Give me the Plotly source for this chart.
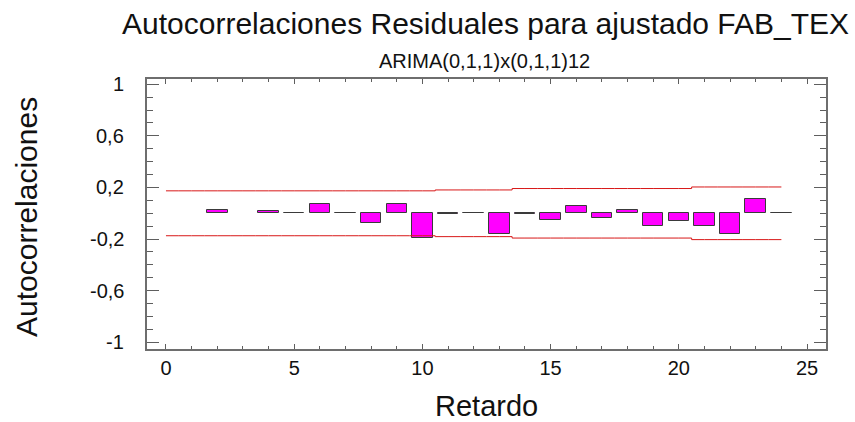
import plotly.graph_objects as go

# Data
lags = list(range(1, 25))
acf = [None, 0.024, None, 0.018, 0.002, 0.072, 0.005, -0.075, 0.072, -0.189,
       -0.004, 0.004, -0.160, -0.003, -0.054, 0.057, -0.039, 0.028, -0.096,
       -0.060, -0.096, -0.160, 0.111, 0.002]

band_lags = list(range(0, 25))
band_upper = [0.174] * 11 + [0.181] * 3 + [0.192] * 7 + [0.204] * 4
band_lower = [-v for v in band_upper]

ytick_vals = [-1, -0.6, -0.2, 0.2, 0.6, 1]
ytick_text = ["-1", "-0,6", "-0,2", "0,2", "0,6", "1"]
xtick_vals = [0, 5, 10, 15, 20, 25]
xtick_text = ["0", "5", "10", "15", "20", "25"]

title_text = "Autocorrelaciones Residuales para ajustado FAB_TEX"
subtitle_text = "ARIMA(0,1,1)x(0,1,1)12"
x_title = "Retardo"
y_title = "Autocorrelaciones"

FONT = "Liberation Sans, Arial, sans-serif"
W, H = 855, 422
L, R, T, B = 147, 29, 79, 73

fig = go.Figure()
fig.add_trace(go.Bar(
    x=lags, y=acf, width=0.8,
    marker=dict(color="#ff00ff", line=dict(color="#3a3a3a", width=1)),
    showlegend=False,
))
fig.add_trace(go.Scatter(
    x=band_lags, y=band_upper, mode="lines", line_shape="hvh",
    line=dict(color="#d81818", width=1), showlegend=False,
))
fig.add_trace(go.Scatter(
    x=band_lags, y=band_lower, mode="lines", line_shape="hvh",
    line=dict(color="#d81818", width=1), showlegend=False,
))

axis_common = dict(
    showline=True, linecolor="#6e6e6e", linewidth=1.5, mirror="ticks",
    ticks="inside", tickcolor="#5e5e5e", tickwidth=1,
    showgrid=False, zeroline=False,
    tickfont=dict(family=FONT, size=20, color="#111111"),
)

fig.update_xaxes(
    range=[-0.74, 25.74], tickmode="array", tickvals=xtick_vals, ticktext=xtick_text,
    ticklen=5,
    minor=dict(ticks="inside", dtick=1, tick0=0, ticklen=3, tickcolor="#5e5e5e"),
    **axis_common,
)
fig.update_yaxes(
    range=[-1.052, 1.041], tickmode="array", tickvals=ytick_vals, ticktext=ytick_text,
    ticklen=12, showticklabels=False,
    minor=dict(ticks="inside", dtick=0.1, tick0=0, ticklen=6, tickcolor="#5e5e5e"),
    **axis_common,
)

def py(pix):
    # convert pixel y (from top of page) to paper coordinate
    return (H - B - pix) / (H - T - B)

def px(pix):
    return (pix - L) / (W - L - R)

annotations = [
    dict(text=title_text, x=px(485), y=py(24), xref="paper", yref="paper",
         showarrow=False, xanchor="center", yanchor="middle",
         font=dict(family=FONT, size=30, color="#111111")),
    dict(text=subtitle_text, x=px(484), y=py(61), xref="paper", yref="paper",
         showarrow=False, xanchor="center", yanchor="middle",
         font=dict(family=FONT, size=20, color="#111111")),
    dict(text=x_title, x=px(486), y=py(406), xref="paper", yref="paper",
         showarrow=False, xanchor="center", yanchor="middle",
         font=dict(family=FONT, size=29, color="#111111")),
    dict(text=y_title, x=px(26), y=py(217), xref="paper", yref="paper",
         showarrow=False, xanchor="center", yanchor="middle", textangle=-90,
         font=dict(family=FONT, size=30, color="#111111")),
]
# y tick labels placed at the axis tick values
for v, t in zip(ytick_vals, ytick_text):
    annotations.append(dict(
        text=t, x=px(126), y=v, xref="paper", yref="y",
        showarrow=False, xanchor="right", yanchor="middle",
        font=dict(family=FONT, size=20, color="#111111"),
    ))

fig.update_layout(
    width=W, height=H,
    margin=dict(l=L, r=R, t=T, b=B, autoexpand=False),
    plot_bgcolor="white", paper_bgcolor="white",
    bargap=0,
    annotations=annotations,
)

fig.write_html("out.html")
